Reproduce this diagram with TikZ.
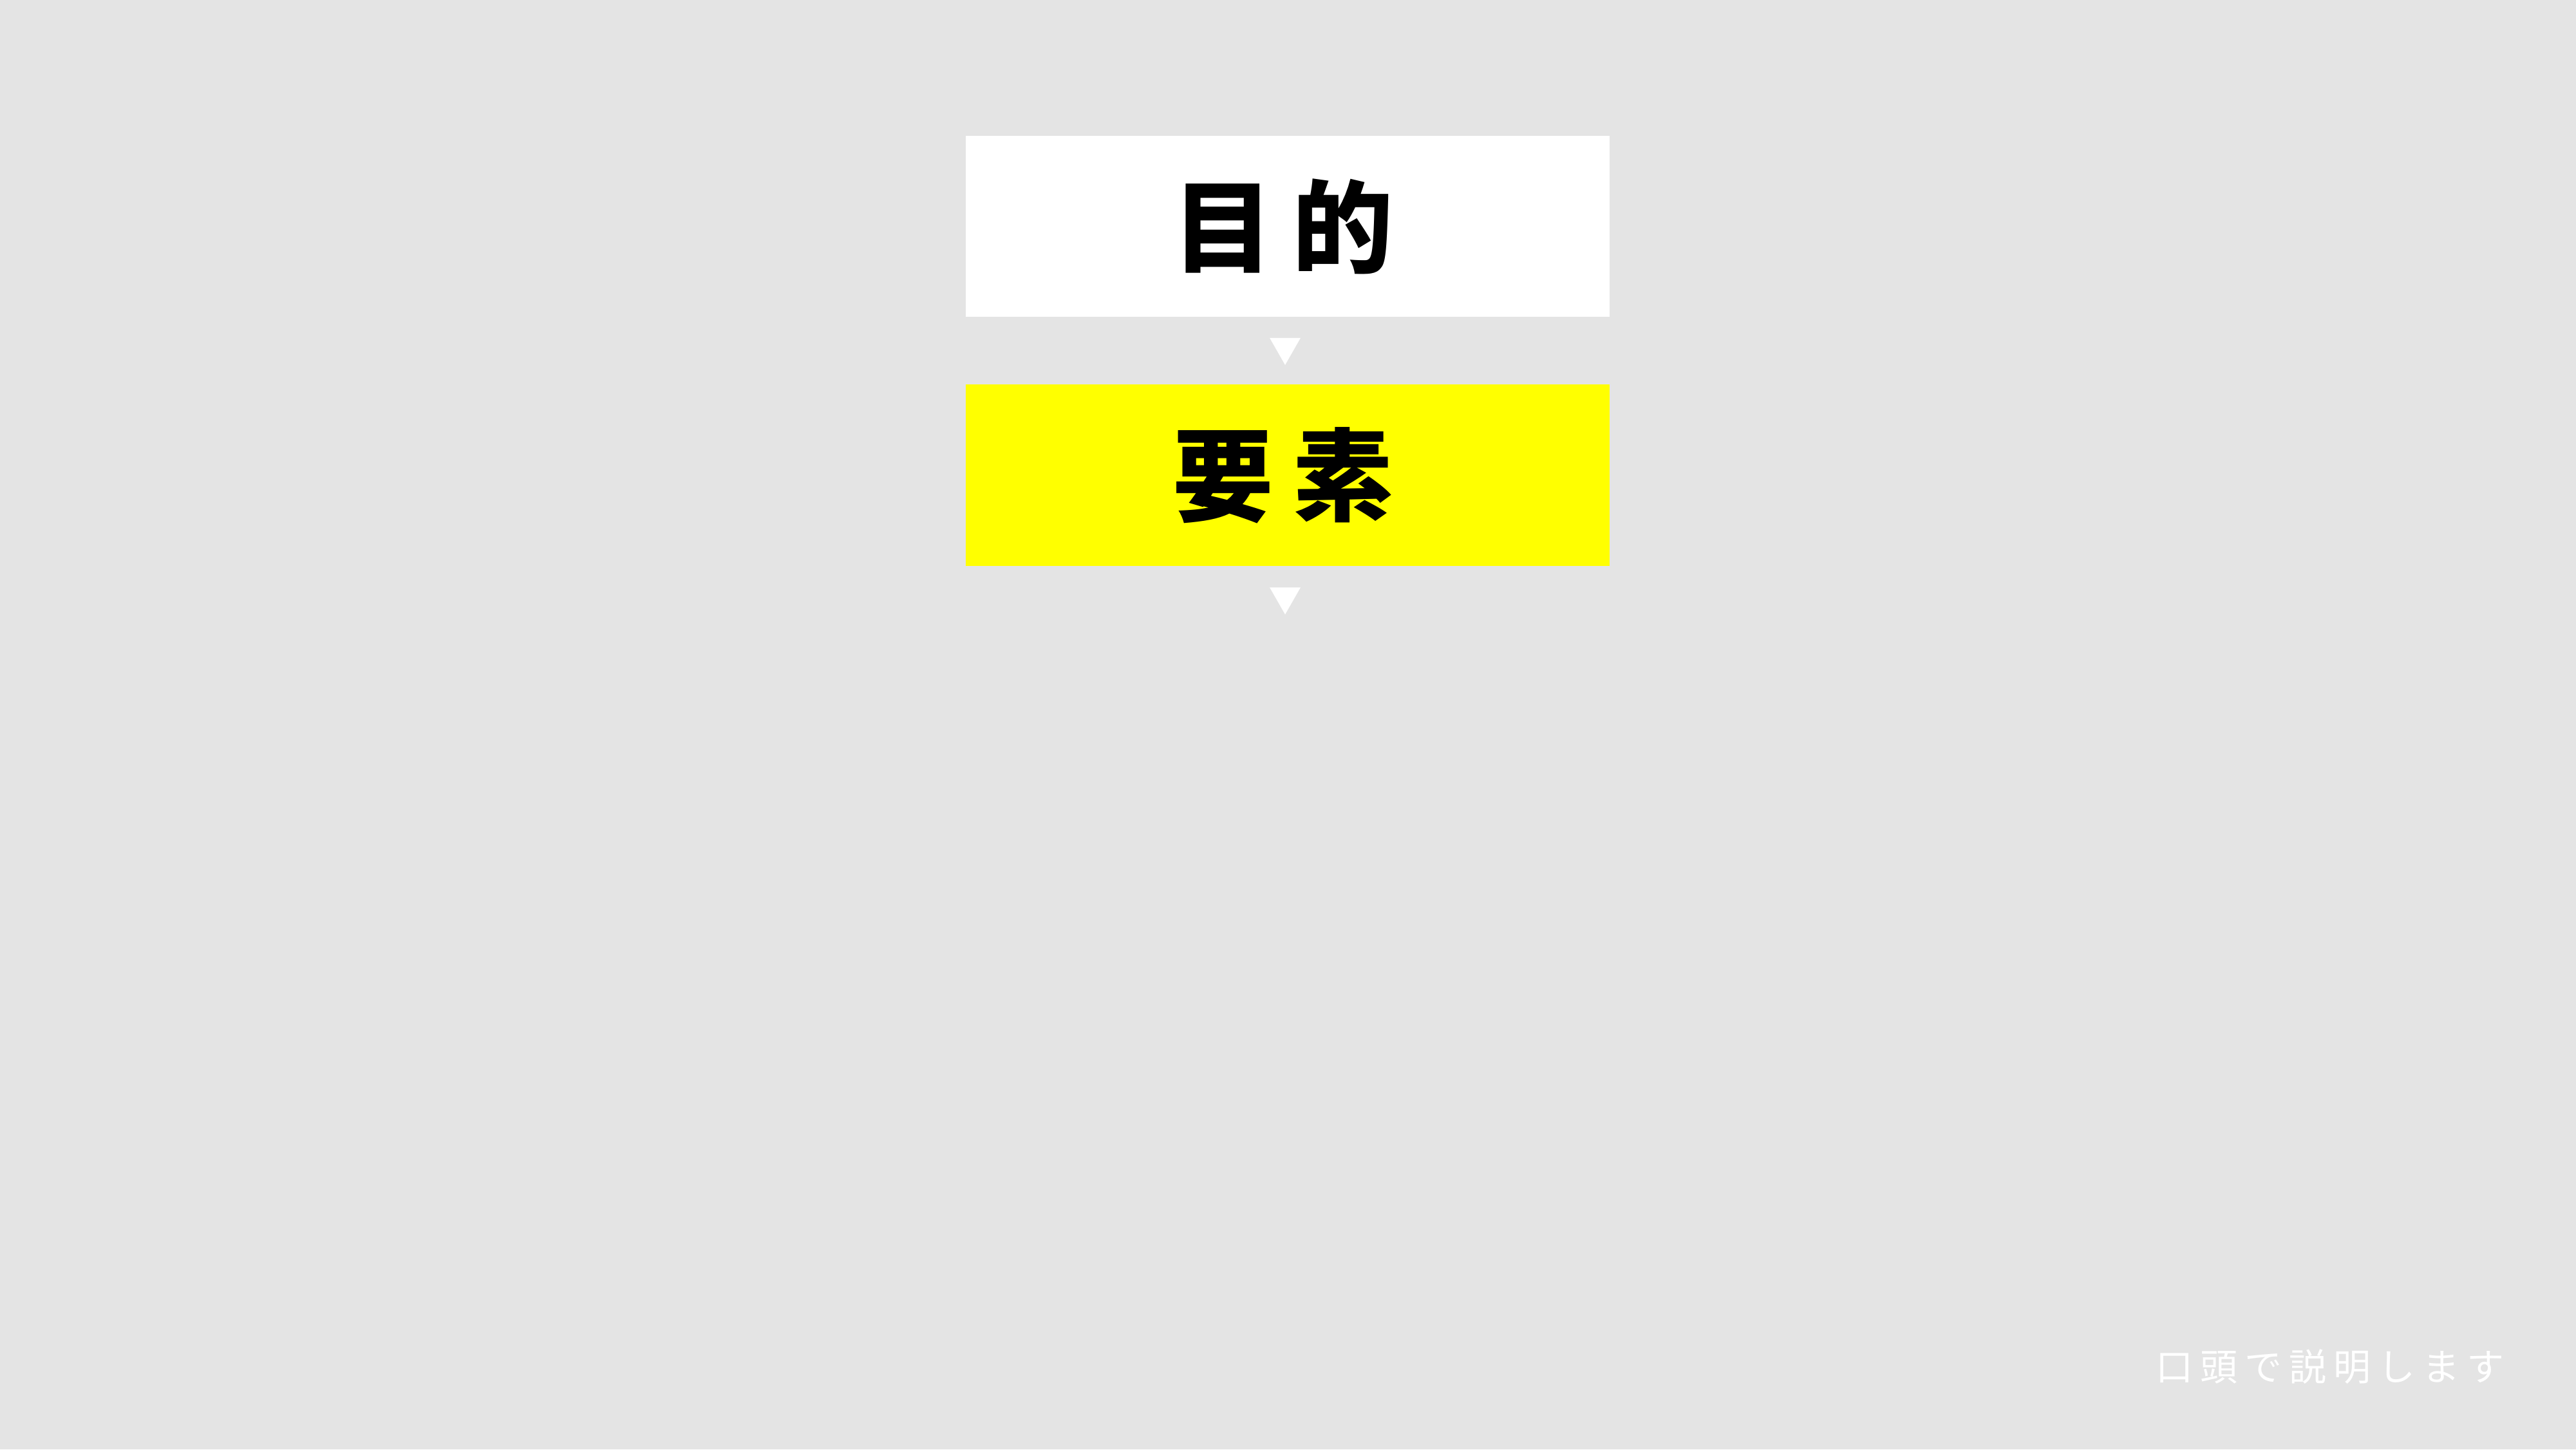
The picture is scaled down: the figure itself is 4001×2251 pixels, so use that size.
\documentclass[tikz,border=0pt]{standalone}
\usepackage{fontspec}
\newfontfamily\jp{Noto Sans CJK JP}
\usetikzlibrary{calc}
\definecolor{bg}{HTML}{E4E4E4}
\definecolor{hl}{HTML}{FFFF00}
\tikzset{
  stepbox/.style={rectangle, draw=none, minimum width=10cm, minimum height=2.81cm, inner sep=0pt,
    font=\jp\bfseries\fontsize{44.5}{50}\selectfont, text=black},
  flowtri/.style={fill=white, draw=none},
  note/.style={font=\jp\fontsize{16.5}{18}\selectfont, text=white, inner sep=0pt}
}
\begin{document}
\begin{tikzpicture}[x=0.01cm, y=0.01cm]
\useasboundingbox (0,0) rectangle (4001,-2251);
\fill[bg] (0,0) rectangle (4001,-2251);
\node[stepbox, fill=white] (goal) at (2000,-351.5) {\raisebox{0.03cm}{\kern-0.14cm 目\hspace{0.3cm}的}};
\node[stepbox, fill=hl] (elem) at (2000,-738) {\raisebox{0.03cm}{\kern-0.14cm 要\hspace{0.3cm}素}};
\fill[flowtri] ($(goal.south)+(-28,-32)$) -- ++(48,0) -- ++(-24,-42) -- cycle;
\fill[flowtri] ($(elem.south)+(-28,-33)$) -- ++(48,0) -- ++(-24,-42) -- cycle;
\node[note] (oral) at (3619,-2123) {口\hspace{0.11cm}頭\hspace{0.11cm}で\hspace{0.11cm}説\hspace{0.11cm}明\hspace{0.11cm}し\hspace{0.11cm}ま\hspace{0.11cm}す};
\end{tikzpicture}
\end{document}
